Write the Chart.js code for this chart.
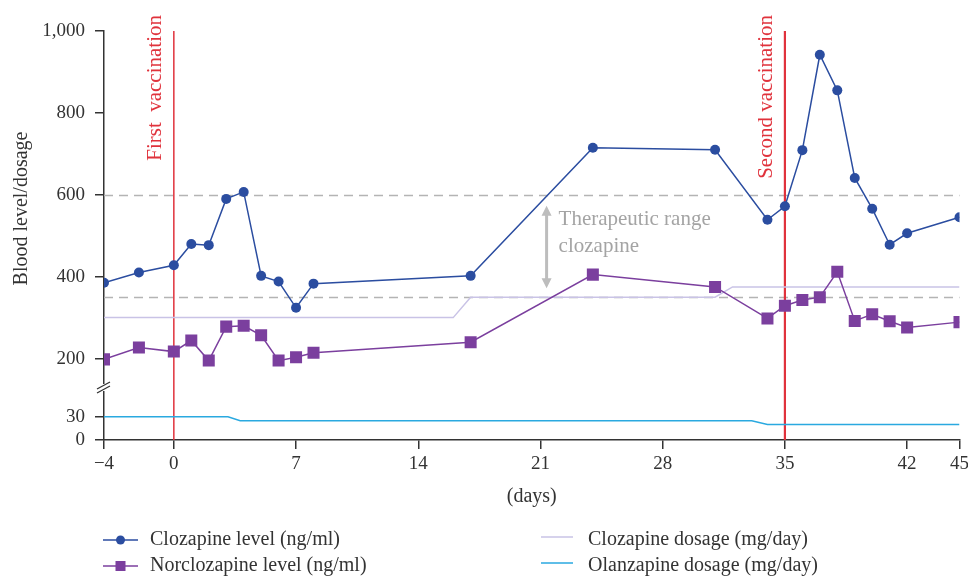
<!DOCTYPE html>
<html>
<head>
<meta charset="utf-8">
<script src="https://cdn.jsdelivr.net/npm/chart.js@4.4.1/dist/chart.umd.min.js"></script>
<style>
  html, body { margin: 0; padding: 0; background: #fff; }
  #wrap { width: 968px; height: 577px; }
</style>
</head>
<body>
<div id="wrap"><canvas id="chart" width="968" height="577"></canvas></div>
<script>
const FONT = "'Liberation Serif', 'Times New Roman', serif";

// Blood levels (ng/ml), same sampling days for both series
const levelDays = [-4, -2, 0, 1, 2, 3, 4, 5, 6, 7, 8, 17, 24, 31, 34, 35, 36, 37, 38, 39, 40, 41, 42, 45];
const clozapineLevel = [385, 410, 428, 480, 477, 590, 607, 402, 388, 324, 383, 402, 715, 710, 539, 572, 709, 942, 855, 641, 566, 478, 506, 545];
const norclozapineLevel = [198, 227, 217, 244, 195, 278, 280, 257, 195, 203, 214, 240, 405, 375, 298, 329, 343, 350, 412, 292, 308, 291, 276, 289];

// Dosages (mg/day)
const clozapineDoseDays = [-4, 16, 17, 31, 32, 45];
const clozapineDose = [300, 300, 350, 350, 375, 375];
const olanzapineDoseDays = [-4, 3.1, 3.8, 33.1, 34, 45];
const olanzapineDose = [30, 30, 25, 25, 20, 20];

// Axes
const xTicks = [-4, 0, 7, 14, 21, 28, 35, 42, 45];
const yTopTicks = [200, 400, 600, 800, 1000];
const yBottomTicks = [0, 30];

// Annotations
const therapeuticRange = [350, 600];
const therapeuticLabel = ['Therapeutic range', 'clozapine'];
const arrowDay = 21.35;
const vaccinationDays = [0, 35];
const vaccinationLabels = ['First  vaccination', 'Second vaccination'];

const BLUE = '#2b4da0';
const PURPLE = '#7b3f9e';
const LAVENDER = '#c9c3e6';
const CYAN = '#2aa9e0';
const RED = '#e0323c';
const AXIS = '#333333';

function toPoints(xs, ys) {
    return xs.map((x, i) => ({ x: x, y: ys[i] }));
}

function fixedTicks(values) {
    return scale => { scale.ticks = values.map(v => ({ value: v })); };
}

const annotationsPlugin = {
    id: 'annotations',
    beforeDatasetsDraw(chart) {
        const { ctx, chartArea, scales } = chart;
        ctx.save();
        // lignes pointillées de la zone thérapeutique
        ctx.strokeStyle = '#b4b4b4';
        ctx.lineWidth = 1.5;
        ctx.setLineDash([9, 6]);
        therapeuticRange.forEach(v => {
            const py = Math.round(scales.yTop.getPixelForValue(v)) + 0.5;
            ctx.beginPath();
            ctx.moveTo(chartArea.left, py);
            ctx.lineTo(chartArea.right, py);
            ctx.stroke();
        });
        ctx.setLineDash([]);
        // vaccinations
        ctx.strokeStyle = RED;
        vaccinationDays.forEach((d, i) => {
            const px = scales.x.getPixelForValue(d);
            ctx.lineWidth = i === 0 ? 1.5 : 2.2;
            ctx.beginPath();
            ctx.moveTo(px, chartArea.top);
            ctx.lineTo(px, chartArea.bottom);
            ctx.stroke();
        });
        ctx.restore();
    },
    afterDraw(chart) {
        const { ctx, chartArea, scales } = chart;
        ctx.save();

        // textes des vaccinations (verticaux)
        ctx.fillStyle = RED;
        ctx.font = `21px ${FONT}`;
        ctx.textAlign = 'right';
        ctx.textBaseline = 'middle';
        vaccinationDays.forEach((d, i) => {
            const px = scales.x.getPixelForValue(d);
            ctx.save();
            ctx.translate(px - 18, 15);
            ctx.rotate(-Math.PI / 2);
            ctx.fillText(vaccinationLabels[i], 0, 0);
            ctx.restore();
        });

        // flèche double + texte
        const ax = scales.x.getPixelForValue(arrowDay);
        const top = scales.yTop.getPixelForValue(therapeuticRange[1]) + 11;
        const bottom = scales.yTop.getPixelForValue(therapeuticRange[0]) - 9;
        ctx.strokeStyle = '#bdbdbd';
        ctx.fillStyle = '#bdbdbd';
        ctx.lineWidth = 3;
        ctx.beginPath();
        ctx.moveTo(ax, top + 8);
        ctx.lineTo(ax, bottom - 8);
        ctx.stroke();
        ctx.beginPath();
        ctx.moveTo(ax, top); ctx.lineTo(ax - 5, top + 10); ctx.lineTo(ax + 5, top + 10); ctx.closePath();
        ctx.moveTo(ax, bottom); ctx.lineTo(ax - 5, bottom - 10); ctx.lineTo(ax + 5, bottom - 10); ctx.closePath();
        ctx.fill();
        ctx.fillStyle = '#a4a4a4';
        ctx.font = `21px ${FONT}`;
        ctx.textAlign = 'left';
        ctx.textBaseline = 'middle';
        ctx.fillText(therapeuticLabel[0], ax + 12, top + 14);
        ctx.fillText(therapeuticLabel[1], ax + 12, top + 41);

        // coupure de l'axe Y
        const yb = scales.yTop.bottom + 1;
        const xl = chartArea.left;
        ctx.fillStyle = '#fff';
        ctx.fillRect(xl - 2, yb - 3, 4, 7);
        ctx.strokeStyle = AXIS;
        ctx.lineWidth = 1.3;
        ctx.beginPath();
        ctx.moveTo(xl - 7, yb + 2); ctx.lineTo(xl + 6, yb - 5);
        ctx.moveTo(xl - 7, yb + 6); ctx.lineTo(xl + 6, yb - 1);
        ctx.stroke();

        // légende sur deux colonnes
        const colX = [103, 541];
        const lineLen = [35, 32];
        const textX = [150, 588];
        const rowY = [540, 566];
        ctx.font = `20px ${FONT}`;
        ctx.textBaseline = 'middle';
        chart.data.datasets.forEach((ds, i) => {
            const col = Math.floor(i / 2);
            const row = i % 2;
            const x0 = colX[col];
            const y0 = rowY[row] - (col === 1 ? 3 : 0);
            ctx.strokeStyle = ds.borderColor;
            ctx.lineWidth = 1.5;
            ctx.beginPath();
            ctx.moveTo(x0, y0);
            ctx.lineTo(x0 + lineLen[col], y0);
            ctx.stroke();
            if (ds.pointRadius > 0) {
                ctx.fillStyle = ds.backgroundColor;
                const cx = x0 + lineLen[col] / 2;
                if (ds.pointStyle === 'rect') {
                    ctx.fillRect(cx - 5, y0 - 5, 10, 10);
                } else {
                    ctx.beginPath();
                    ctx.arc(cx, y0, 4.5, 0, Math.PI * 2);
                    ctx.fill();
                }
            }
            ctx.fillStyle = '#333';
            ctx.fillText(ds.label, textX[col], rowY[row]);
        });
        ctx.restore();
    }
};

const tickFont = { family: FONT, size: 19 };
const axisGrid = { drawOnChartArea: false, tickLength: 9, color: AXIS, lineWidth: 1.5 };
const axisBorder = { display: true, color: AXIS, width: 1.5 };

new Chart(document.getElementById('chart').getContext('2d'), {
    type: 'line',
    data: {
        datasets: [
            {
                label: 'Clozapine level (ng/ml)',
                data: toPoints(levelDays, clozapineLevel),
                yAxisID: 'yTop',
                borderColor: BLUE, backgroundColor: BLUE,
                borderWidth: 1.5, pointRadius: 5, pointStyle: 'circle', pointBorderWidth: 0
            },
            {
                label: 'Norclozapine level (ng/ml)',
                data: toPoints(levelDays, norclozapineLevel),
                yAxisID: 'yTop',
                borderColor: PURPLE, backgroundColor: PURPLE,
                borderWidth: 1.5, pointRadius: 8.5, pointStyle: 'rect', pointBorderWidth: 0
            },
            {
                label: 'Clozapine dosage (mg/day)',
                data: toPoints(clozapineDoseDays, clozapineDose),
                yAxisID: 'yTop',
                borderColor: LAVENDER, backgroundColor: LAVENDER,
                borderWidth: 1.5, pointRadius: 0
            },
            {
                label: 'Olanzapine dosage (mg/day)',
                data: toPoints(olanzapineDoseDays, olanzapineDose),
                yAxisID: 'yBot',
                borderColor: CYAN, backgroundColor: CYAN,
                borderWidth: 1.5, pointRadius: 0
            }
        ]
    },
    options: {
        responsive: false,
        devicePixelRatio: 1,
        animation: false,
        layout: { padding: { left: 0, top: 31, right: 8, bottom: 67 } },
        plugins: { legend: { display: false }, tooltip: { enabled: false } },
        elements: { line: { tension: 0 } },
        scales: {
            x: {
                type: 'linear', min: -4, max: 45,
                afterBuildTicks: fixedTicks(xTicks),
                afterFit: s => { s.height = 70; s.paddingLeft = 0; s.paddingRight = 0; },
                grid: axisGrid, border: axisBorder,
                ticks: {
                    padding: 4, color: AXIS, font: tickFont, maxRotation: 0, autoSkip: false,
                    callback: v => v < 0 ? '\u2212' + Math.abs(v) : String(v)
                },
                title: { display: true, text: '(days)', color: AXIS, font: { family: FONT, size: 20 }, padding: { top: 0, bottom: 1 } }
            },
            yTop: {
                type: 'linear', position: 'left', stack: 'y', stackWeight: 355, weight: 2,
                min: 133, max: 1000,
                afterBuildTicks: fixedTicks(yTopTicks),
                afterFit: s => { s.width = 104; s.paddingTop = 0; s.paddingBottom = 0; },
                grid: axisGrid, border: axisBorder,
                ticks: { padding: 10, color: AXIS, font: tickFont, callback: v => v.toLocaleString('en-US') },
                title: { display: true, text: 'Blood level/dosage', color: AXIS, font: { family: FONT, size: 20 }, padding: { top: 10, bottom: 0 } }
            },
            yBot: {
                type: 'linear', position: 'left', stack: 'y', stackWeight: 54, weight: 1,
                min: 0, max: 70,
                afterBuildTicks: fixedTicks(yBottomTicks),
                afterFit: s => { s.width = 104; s.paddingTop = 0; s.paddingBottom = 0; },
                grid: axisGrid, border: axisBorder,
                ticks: { padding: 10, color: AXIS, font: tickFont }
            }
        }
    },
    plugins: [annotationsPlugin]
});
</script>
</body>
</html>
